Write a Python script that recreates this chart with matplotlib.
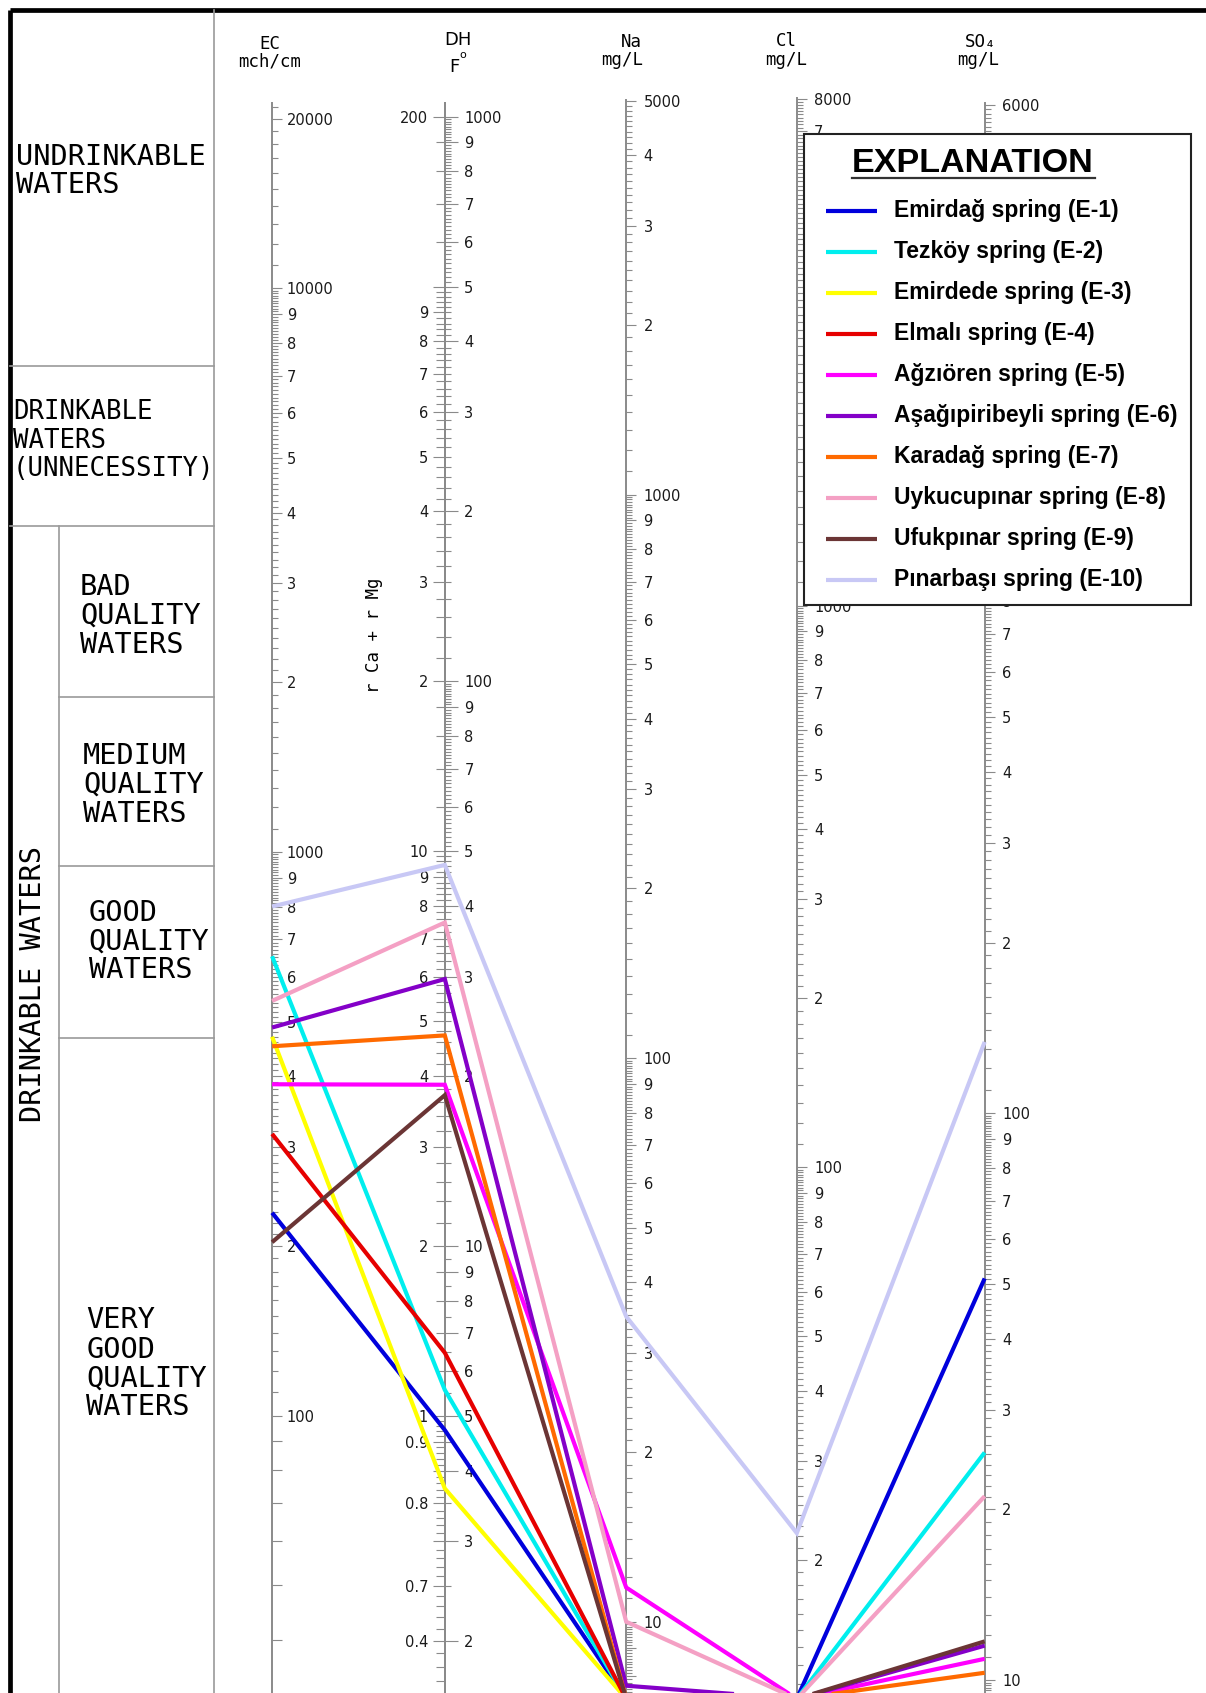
import numpy as np
import matplotlib
matplotlib.use("Agg")
import matplotlib.pyplot as plt
from matplotlib.patches import Rectangle
from matplotlib.ticker import FixedLocator, FuncFormatter, NullFormatter

# layout grid the whole sheet is drawn on (x right, y down)
W, H = 1117, 1568

springs = ["Emirdağ spring (E-1)", "Tezköy spring (E-2)", "Emirdede spring (E-3)",
           "Elmalı spring (E-4)", "Ağzıören spring (E-5)", "Aşağıpiribeyli spring (E-6)",
           "Karadağ spring (E-7)", "Uykucupınar spring (E-8)", "Ufukpınar spring (E-9)",
           "Pınarbaşı spring (E-10)"]
colors = ["#0000dc", "#00eeee", "#ffff00", "#e60000", "#ff00ff",
          "#8400c8", "#ff6a00", "#f4a0c4", "#6b3535", "#c8c8f5"]

ec = [229, 653, 470, 316, 387, 488, 452, 544, 203, 800]          # mch/cm
dh = [4.72, 5.56, 3.72, 6.47, 19.3, 29.7, 23.6, 37.4, 18.5, 47.3]  # French degrees
na = [7.3, 7.3, 7.3, 7.3, 11.5, 7.7, 7.3, 10.0, 7.3, 34.8]        # mg/L
cl = [11.3, 11.3, 11.3, 11.3, 11.3, 11.3, 11.3, 11.3, 11.3, 22.3]  # mg/L
so4 = [51.1, 25.2, 8.0, 8.5, 10.9, 11.5, 10.3, 21.1, 11.7, 133.6]  # mg/L

# rCa + rMg side of the hardness scale (two labels sit one tick off)
r_label_vals = [0.9, 0.7, 0.5, 0.4]
r_label_text = ["0.9", "0.8", "0.7", "0.4"]

# scale labels that sit behind the explanation box are left out
cl_hidden = [2000, 3000, 4000, 5000, 6000]
so4_hidden = [900, 1000, 2000, 3000, 4000, 5000]

GREY = "#8a8a8a"
MONO = ["DejaVu Sans Mono", "DejaVu Sans"]
plt.rcParams["font.family"] = ["DejaVu Sans"]

fig = plt.figure(figsize=(12.06, 16.93), dpi=100)

bg = fig.add_axes([0, 0, 1, 1], zorder=0)
bg.set_xlim(0, W)
bg.set_ylim(H, 0)
bg.axis("off")

# frame and classification panel
bg.plot([9, 9], [9, H], color="black", lw=3.4, solid_capstyle="butt")
bg.plot([9, W], [9, 9], color="black", lw=3.4, solid_capstyle="butt")
bg.plot([198, 198], [9, H], color="#9a9a9a", lw=1.2)
bg.plot([55, 55], [487, H], color="#9a9a9a", lw=1.2)
for y in [339, 487]:
    bg.plot([9, 198], [y, y], color="#9a9a9a", lw=1.2)
for y in [646, 802, 961]:
    bg.plot([55, 198], [y, y], color="#9a9a9a", lw=1.2)

classes = [
    (15, [145, 171], ["UNDRINKABLE", "WATERS"], 20.6),
    (12, [382, 408, 434], ["DRINKABLE", "WATERS", "(UNNECESSITY)"], 18.5),
    (74, [544, 570, 597], ["BAD", "QUALITY", "WATERS"], 20.6),
    (77, [700, 727, 754], ["MEDIUM", "QUALITY", "WATERS"], 20.6),
    (82, [846, 872, 898], ["GOOD", "QUALITY", "WATERS"], 20.6),
    (80, [1223, 1250, 1277, 1303], ["VERY", "GOOD", "QUALITY", "WATERS"], 20.6),
]
for x, ys, lines, fs in classes:
    for y, t in zip(ys, lines):
        bg.text(x, y, t, fontsize=fs, family=MONO, ha="left", va="center")
bg.text(31, 911, "DRINKABLE WATERS", fontsize=20.6, family=MONO, rotation=90,
        ha="center", va="center")
bg.text(346, 588, "r Ca + r Mg", fontsize=12.5, family=MONO, rotation=90,
        ha="center", va="center")

# column headers
for x, y, t in [(250, 41, "EC"), (250, 57, "mch/cm"), (585, 39, "Na"), (576, 56, "mg/L"),
                (728, 38, "Cl"), (728, 56, "mg/L"), (908, 39, "SO₄"), (906, 56, "mg/L")]:
    bg.text(x, y, t, fontsize=12.5, family=MONO, ha="center", va="center")
bg.text(424, 37, "DH", fontsize=13, ha="center", va="center")
bg.text(429, 51, "o", fontsize=8, ha="center", va="center")
bg.text(421, 62, "F", fontsize=13, ha="center", va="center")


def key(v):
    return f"{v:.3g}"


def tick_text(full, digit_bases, extra=None, hidden=()):
    lab = {}
    for b in digit_bases:
        for m in range(2, 10):
            lab[key(m * b)] = str(m)
    lab.update({key(v): f"{v:g}" for v in full})
    if extra:
        lab.update({key(v): t for v, t in extra})
    for v in hidden:
        lab.pop(key(v), None)
    return lab


def scale_ticks(vmin, vmax, step_for):
    major, minor = [], []
    for d in range(int(np.floor(np.log10(vmin))), int(np.ceil(np.log10(vmax))) + 1):
        base = 10.0 ** d
        step = step_for(base)
        for m in range(1, 10):
            major.append(m * base)
            if step:
                n = int(round(1 / step))
                minor += [(m + k * step) * base for k in range(1, n)]
    inside = lambda v: vmin <= v <= vmax
    return [v for v in major if inside(v)], [v for v in minor if inside(v)]


def add_scale(x, y_top, anchor, y_anchor, per_dec, side, step_for, labels,
              major_len, minor_len, pad):
    vmax = anchor * 10 ** ((y_anchor - y_top) / per_dec)
    vmin = anchor * 10 ** ((y_anchor - H) / per_dec)
    ax = fig.add_axes([x / W, 0, 1e-5, 1 - y_top / H], zorder=1)
    ax.set_yscale("log")
    ax.set_ylim(vmin, vmax)
    ax.set_xlim(0, 1)
    ax.patch.set_visible(False)
    ax.xaxis.set_visible(False)
    for s in ax.spines.values():
        s.set_visible(False)
    ax.spines[side].set_visible(True)
    ax.spines[side].set_color(GREY)
    ax.spines[side].set_linewidth(1.4)
    major, minor = scale_ticks(vmin, vmax, step_for)
    ax.yaxis.set_major_locator(FixedLocator(major))
    ax.yaxis.set_minor_locator(FixedLocator(minor))
    ax.yaxis.set_major_formatter(FuncFormatter(lambda v, pos: labels.get(key(v), "")))
    ax.yaxis.set_minor_formatter(NullFormatter())
    if side == "right":
        ax.yaxis.tick_right()
    else:
        ax.yaxis.tick_left()
    ax.tick_params(axis="y", which="both", direction="out", color=GREY, width=0.8)
    ax.tick_params(axis="y", which="major", length=major_len, pad=pad,
                   labelsize=10.5, labelcolor="#1a1a1a")
    ax.tick_params(axis="y", which="minor", length=minor_len)
    return ax


ax_ec = add_scale(252, 95, 1000, 789, 522, "right",
                  lambda b: 0.1 if b >= 100 else None,
                  tick_text([100, 1000, 10000, 20000], [100, 1000]), 7.5, 4.5, 3)
ax_dh = add_scale(412, 95, 100, 631, 523, "right",
                  lambda b: 0.1 if b >= 10 else 0.5,
                  tick_text([10, 100, 1000], [1, 10, 100]), 9, 4.5, 5)
ax_r = add_scale(412, 95, 20, 631, 523, "left", lambda b: 0.2,
                 tick_text([1, 10, 200], [1, 10], list(zip(r_label_vals, r_label_text))),
                 9, 6.5, 3)
ax_na = add_scale(580, 93, 1000, 458, 522, "right", lambda b: 0.1,
                  tick_text([10, 100, 1000, 5000], [10, 100, 1000]), 7.5, 4.5, 5)
ax_cl = add_scale(738, 91, 1000, 561, 520, "right", lambda b: 0.1,
                  tick_text([100, 1000, 8000], [10, 100, 1000], hidden=cl_hidden),
                  7.5, 4.5, 5)
ax_so4 = add_scale(912, 95, 100, 1031, 525, "right", lambda b: 0.1,
                   tick_text([10, 100, 6000], [10, 100, 1000], hidden=so4_hidden),
                   7.5, 4.5, 5)

# spring profiles, placed through each column's log scale
cols = [ax_ec, ax_dh, ax_na, ax_cl, ax_so4]
data = fig.add_axes([0, 0, 1, 1], zorder=5)
data.set_xlim(0, 1)
data.set_ylim(0, 1)
data.axis("off")
to_fig = fig.transFigure.inverted()
for i in range(len(springs)):
    vals = [ec[i], dh[i], na[i], cl[i], so4[i]]
    pts = to_fig.transform([a.transData.transform((0, v)) for a, v in zip(cols, vals)])
    data.plot(pts[:, 0], pts[:, 1], color=colors[i], lw=3.0,
              solid_joinstyle="miter", solid_capstyle="butt")

# explanation box
leg = fig.add_axes([0, 0, 1, 1], zorder=10)
leg.set_xlim(0, W)
leg.set_ylim(H, 0)
leg.axis("off")
leg.add_patch(Rectangle((745, 124), 358, 436, facecolor="white", edgecolor="#222222", lw=1.5))
leg.text(901, 151, "EXPLANATION", fontsize=24.6, fontweight="bold", family="Liberation Sans",
         ha="center", va="center")
leg.plot([789, 1014], [165, 165], color="#333333", lw=1.6)
for i, (name, c) in enumerate(zip(springs, colors)):
    y = 195 + i * 38
    leg.plot([765, 812], [y, y], color=c, lw=3.0, solid_capstyle="butt")
    leg.text(828, y, name, fontsize=16.5, fontweight="bold", family="Liberation Sans",
             ha="left", va="center")

fig.savefig("out.png", dpi=100)
